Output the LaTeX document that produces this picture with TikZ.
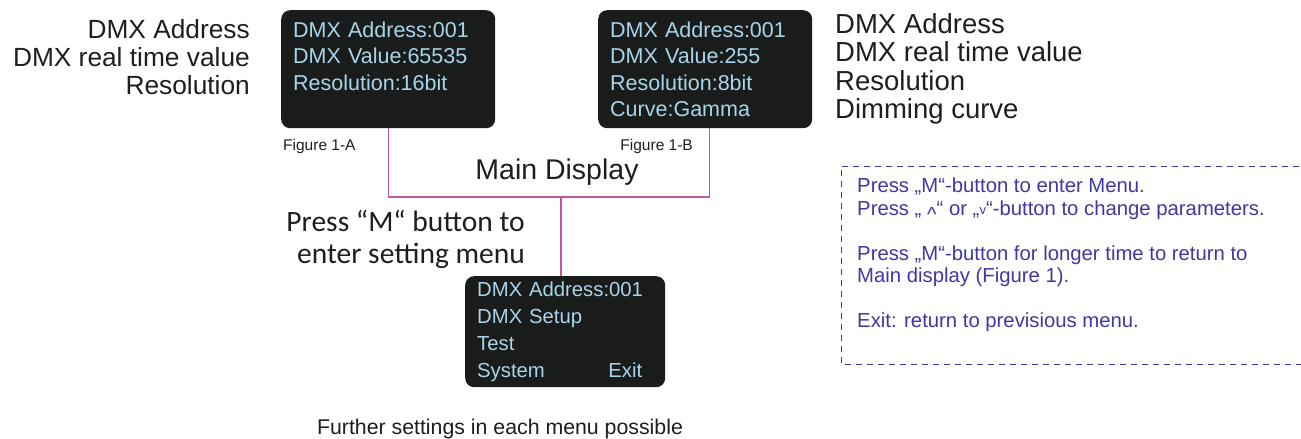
\documentclass[tikz,border=0pt]{standalone}
\usepackage{fontspec}
\setmainfont{Liberation Sans}
\newfontfamily\menufont{Carlito}
\usetikzlibrary{positioning}
\definecolor{scrbg}{HTML}{1A1C1B}
\definecolor{scrtxt}{HTML}{A8D5EA}
\definecolor{linkpink}{HTML}{C2579E}
\definecolor{noteblue}{HTML}{3F38A3}
\definecolor{labelgrey}{HTML}{1E1E1E}
\newcommand{\arrowup}{\raisebox{-6pt}{\textasciicircum}}
\newcommand{\arrowdown}{\raisebox{1pt}{\fontsize{13}{13}\selectfont v}}

\begin{document}
\begin{tikzpicture}[x=1pt,y=-1pt,text=labelgrey,
  screen/.style={anchor=north west,fill=scrbg,rounded corners=9pt,text=scrtxt,
    align=left,inner xsep=12pt,inner ysep=0pt,font=\fontsize{21.5}{26.5}\selectfont},
  link/.style={draw=linkpink,line width=1.3pt},
  caption/.style={inner sep=0pt,font=\fontsize{15.5}{18}\selectfont},
  notetxt/.style={inner sep=0pt,text=noteblue,align=left,font=\fontsize{20.3}{22.5}\selectfont}]
\useasboundingbox (0,0) rectangle (1301,439);

% displays
\node[screen,text width=190pt,minimum height=118pt] (dispA) at (281,10)
  {DMX Address:001\\DMX Value:65535\\Resolution:16bit\\~};
\node[screen,text width=190pt,minimum height=118pt] (dispB) at (598,10)
  {DMX Address:001\\DMX Value:255\\Resolution:8bit\\Curve:Gamma};
\node[screen,text width=176pt,minimum height=111pt,font=\fontsize{20.3}{26.7}\selectfont]
  (dispC) at (465,276)
  {DMX Address:001\\DMX Setup\\Test\\\makebox[165pt]{System\hfill Exit}};

% labels
\node[inner sep=0pt,align=right,anchor=east,font=\fontsize{26.3}{28}\selectfont]
  (lblA) at (250,57) {DMX Address\\DMX real time value\\Resolution};
\node[inner sep=0pt,align=left,anchor=west,font=\fontsize{27.5}{28.5}\selectfont]
  (lblB) at (835,69) {DMX Address\\DMX real time value\\Resolution\\Dimming curve};
\node[caption,anchor=west] (figA) at (283,146) {Figure 1-A};
\node[caption,anchor=east] (figB) at (693,146) {Figure 1-B};
\node[inner sep=0pt,font=\fontsize{28.5}{32}\selectfont] (mainDisp) at (557,172) {Main Display};
\node[inner sep=0pt,align=right,anchor=east,font=\menufont\fontsize{29.5}{32}\selectfont]
  (pressM) at (525,239) {Press “M“ button to\\enter setting menu};
\node[inner sep=0pt,font=\fontsize{21.3}{24}\selectfont] (further) at (500,429)
  {Further settings in each menu possible};

% connectors
\coordinate (bus) at (561,197);
\draw[link] (dispA.south) |- (bus) -| ([xshift=4pt]dispB.south);
\draw[link] (bus) -- (bus |- dispC.north);

% note
\draw[noteblue,line width=1pt,dash pattern=on 6pt off 5pt]
  (1310,166) -- (841,166) -- (841,364) -- (1310,364);
\node[notetxt,anchor=west] (note) at (857,255)
  {Press „M“-button to enter Menu.\\
   Press „ \arrowup“ or „\arrowdown“-button to change parameters.\\[22.5pt]
   Press „M“-button for longer time to return to\\
   Main display (Figure 1).\\[22.5pt]
   Exit: return to previsious menu.};
\end{tikzpicture}
\end{document}
